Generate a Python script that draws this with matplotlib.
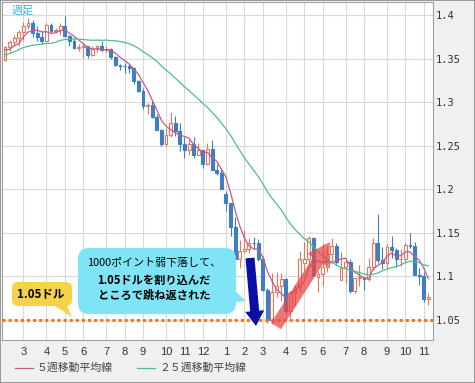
import numpy as np
import pandas as pd
import matplotlib
matplotlib.use("Agg")
import matplotlib.pyplot as plt
from matplotlib.patches import FancyBboxPatch, Polygon, FancyArrow, Rectangle
from matplotlib.lines import Line2D
from matplotlib.transforms import Affine2D

# weekly EUR/USD candles, Feb 2014 .. Nov 2015
opens = [1.3485, 1.3636, 1.3694, 1.3740, 1.3803, 1.3873, 1.3913, 1.3792, 1.3751, 1.3704,
         1.3887, 1.3812, 1.3830, 1.3870, 1.3757, 1.3697, 1.3626, 1.3633, 1.3643, 1.3542,
         1.3605, 1.3645, 1.3601, 1.3605, 1.3524, 1.3431, 1.3419, 1.3411, 1.3398, 1.3241,
         1.3131, 1.2951, 1.2962, 1.2830, 1.2684, 1.2519, 1.2628, 1.2759, 1.2670, 1.2525,
         1.2454, 1.2525, 1.2392, 1.2451, 1.2288, 1.2463, 1.2226, 1.2185, 1.1950, 1.1841,
         1.1564, 1.1204, 1.1290, 1.1314, 1.1387, 1.1380, 1.1197, 1.0844, 1.0496, 1.0823,
         1.0889, 1.0970, 1.0604, 1.0807, 1.0874, 1.1150, 1.1198, 1.1446, 1.0990, 1.1030,
         1.1113, 1.1262, 1.1349, 1.0955, 1.1109, 1.1163, 1.0829, 1.0983, 1.0984, 1.0966,
         1.1107, 1.1384, 1.1183, 1.1151, 1.1338, 1.1299, 1.1195, 1.1204, 1.1363, 1.1348,
         1.1016, 1.1004, 1.0738]
highs = [1.3640, 1.3715, 1.3773, 1.3825, 1.3915, 1.3967, 1.3940, 1.3876, 1.3812, 1.3905,
         1.3905, 1.3857, 1.3906, 1.3993, 1.3771, 1.3733, 1.3669, 1.3677, 1.3650, 1.3643,
         1.3660, 1.3701, 1.3648, 1.3619, 1.3528, 1.3444, 1.3445, 1.3433, 1.3399, 1.3250,
         1.3162, 1.2996, 1.3009, 1.2863, 1.2689, 1.2700, 1.2887, 1.2844, 1.2760, 1.2600,
         1.2577, 1.2602, 1.2532, 1.2456, 1.2532, 1.2570, 1.2296, 1.2247, 1.1976, 1.1843,
         1.1680, 1.1423, 1.1534, 1.1444, 1.1450, 1.1428, 1.1240, 1.0870, 1.1043, 1.1052,
         1.1036, 1.0985, 1.0820, 1.0899, 1.1290, 1.1392, 1.1467, 1.1450, 1.1060, 1.1385,
         1.1335, 1.1436, 1.1387, 1.1278, 1.1215, 1.1196, 1.0986, 1.1129, 1.0990, 1.1214,
         1.1441, 1.1714, 1.1332, 1.1367, 1.1460, 1.1330, 1.1318, 1.1387, 1.1495, 1.1392,
         1.1096, 1.1045, 1.0807]
lows = [1.3476, 1.3574, 1.3643, 1.3642, 1.3715, 1.3835, 1.3749, 1.3705, 1.3673, 1.3697,
        1.3789, 1.3789, 1.3772, 1.3748, 1.3648, 1.3615, 1.3586, 1.3503, 1.3510, 1.3525,
        1.3574, 1.3588, 1.3579, 1.3501, 1.3419, 1.3366, 1.3333, 1.3331, 1.3206, 1.3116,
        1.2919, 1.2859, 1.2823, 1.2682, 1.2501, 1.2501, 1.2605, 1.2615, 1.2440, 1.2358,
        1.2394, 1.2358, 1.2393, 1.2246, 1.2284, 1.2219, 1.2165, 1.1999, 1.1754, 1.1460,
        1.1114, 1.1098, 1.1270, 1.1263, 1.1316, 1.1177, 1.0838, 1.0462, 1.0458, 1.0762,
        1.0712, 1.0567, 1.0520, 1.0659, 1.0819, 1.1063, 1.1124, 1.0988, 1.0819, 1.0887,
        1.1050, 1.1180, 1.1134, 1.0955, 1.0916, 1.0809, 1.0808, 1.0887, 1.0848, 1.0950,
        1.1070, 1.1155, 1.1087, 1.1099, 1.1215, 1.1105, 1.1123, 1.1152, 1.1329, 1.1016,
        1.0897, 1.0705, 1.0675]
closes = [1.3636, 1.3694, 1.3740, 1.3803, 1.3873, 1.3913, 1.3792, 1.3751, 1.3704, 1.3887,
          1.3812, 1.3830, 1.3870, 1.3757, 1.3697, 1.3626, 1.3633, 1.3643, 1.3542, 1.3605,
          1.3645, 1.3601, 1.3605, 1.3524, 1.3431, 1.3419, 1.3411, 1.3398, 1.3241, 1.3131,
          1.2951, 1.2962, 1.2830, 1.2684, 1.2519, 1.2628, 1.2759, 1.2670, 1.2525, 1.2454,
          1.2525, 1.2392, 1.2451, 1.2288, 1.2463, 1.2226, 1.2185, 1.2002, 1.1841, 1.1564,
          1.1204, 1.1290, 1.1314, 1.1387, 1.1380, 1.1197, 1.0844, 1.0496, 1.0823, 1.0889,
          1.0970, 1.0604, 1.0807, 1.0874, 1.1200, 1.1198, 1.1446, 1.1014, 1.1030, 1.1113,
          1.1262, 1.1349, 1.1166, 1.1109, 1.1163, 1.0829, 1.0983, 1.0984, 1.0966, 1.1107,
          1.1384, 1.1183, 1.1151, 1.1338, 1.1299, 1.1195, 1.1204, 1.1363, 1.1348, 1.1016,
          1.1004, 1.0738, 1.0765]
# closes of the 24 weeks before the first candle (for the moving averages)
prior_closes = [1.3380, 1.3219, 1.3178, 1.3298, 1.3525, 1.3522, 1.3552, 1.3556, 1.3684, 1.3803,
                1.3487, 1.3365, 1.3495, 1.3554, 1.3592, 1.3705, 1.3740, 1.3672, 1.3699, 1.3591,
                1.3668, 1.3535, 1.3680, 1.3486]

month_weeks = [4, 9, 13, 17, 22, 26, 30, 35, 39, 43, 48, 52, 56, 61, 65, 69, 74, 78, 83, 87, 91]
month_labels = ["3", "4", "5", "6", "7", "8", "9", "10", "11", "12", "1",
                "2", "3", "4", "5", "6", "7", "8", "9", "10", "11"]
price_ticks = [1.05, 1.1, 1.15, 1.2, 1.25, 1.3, 1.35, 1.4]

plt.rcParams['font.family'] = ['Noto Sans CJK JP', 'DejaVu Sans']

W, H = 475, 383
fig = plt.figure(figsize=(W / 100, H / 100), dpi=100, facecolor='#f0f0f0')
px = Affine2D().scale(1 / W, -1 / H).translate(0, 1) + fig.transFigure

ax = fig.add_axes([2 / W, 1 - 340 / H, 431 / W, 338 / H])
ax.set_facecolor('white')

up_col = '#e8765e'
down_col = '#3d7fc1'
x = np.arange(len(closes))
o = np.array(opens); c = np.array(closes)
hi = np.array(highs); lo = np.array(lows)
up = c >= o
wick_cols = np.where(up, up_col, down_col)
ax.vlines(x, lo, hi, colors=wick_cols, lw=0.8, zorder=2)
body = np.maximum(np.abs(c - o), 0.0008)
ax.bar(x[up], body[up], bottom=np.minimum(o, c)[up], width=0.62,
       color='white', edgecolor=up_col, lw=0.8, zorder=3)
ax.bar(x[~up], body[~up], bottom=np.minimum(o, c)[~up], width=0.62,
       color=down_col, edgecolor=down_col, lw=0.8, zorder=3)

all_close = pd.Series(prior_closes + closes)
ma5 = all_close.rolling(5).mean().to_numpy()[len(prior_closes):]
ma25 = all_close.rolling(25).mean().to_numpy()[len(prior_closes):]
ma5_col = '#c8588a'
ma25_col = '#4cc08a'
ax.plot(x, ma5, color=ma5_col, lw=0.9, zorder=4)
ax.plot(x, ma25, color=ma25_col, lw=0.9, zorder=4)

ax.axhline(1.05, color='#f07a1a', lw=2.2, dashes=(1, 1), zorder=5)

ax.set_xlim(-0.65, 93.0)
ax.set_ylim(1.027, 1.415)
ax.set_xticks(month_weeks)
ax.set_xticklabels(month_labels, family='Liberation Sans', fontsize=8, color='#333333')
ax.yaxis.tick_right()
ax.set_yticks(price_ticks)
ax.set_yticklabels(['%g' % v for v in price_ticks], family='DejaVu Sans Mono',
                   fontsize=7.5, color='#333333')
ax.tick_params(axis='x', length=0, pad=5)
ax.tick_params(axis='y', length=0, pad=2)
ax.grid(True, color='#d9d9d9', lw=0.8, zorder=0)
ax.set_axisbelow(True)
for s in ax.spines.values():
    s.set_color('#a0a0a0')
    s.set_linewidth(0.8)

ax.text(12, 11, '週足', transform=px, color='#3cb4e6', fontsize=8, va='center', ha='left')

# callouts
yb = FancyBboxPatch((12, 282), 60, 24, boxstyle='round,pad=0,rounding_size=6',
                    transform=px, fc='#f5d24a', ec='none', zorder=6)
fig.add_artist(yb)
fig.add_artist(Polygon([(52, 304), (66, 304), (72, 317)], closed=True, transform=px,
                       fc='#f5d24a', ec='none', zorder=6))
fig.text(41, 294, '1.05ドル', transform=px, fontsize=8.3, fontweight='bold',
         ha='center', va='center', zorder=7)

cb = FancyBboxPatch((78, 248), 158, 66, boxstyle='round,pad=0,rounding_size=11',
                    transform=px, fc='#7fe4f6', ec='none', zorder=6)
fig.add_artist(cb)
fig.add_artist(Polygon([(228, 284), (228, 303), (246, 301)], closed=True, transform=px,
                       fc='#7fe4f6', ec='none', zorder=6))
fig.text(154, 263, '1000ポイント弱下落して、', transform=px, fontsize=7.9,
         ha='center', va='center', zorder=7)
fig.text(154, 280, '1.05ドルを割り込んだ', transform=px, fontsize=8.1, fontweight='bold',
         ha='center', va='center', zorder=7)
fig.text(154, 295, 'ところで跳ね返された', transform=px, fontsize=8.1, fontweight='bold',
         ha='center', va='center', zorder=7)

# arrows
fig.add_artist(FancyArrow(250, 258, 6, 68, width=9, head_width=19, head_length=15,
                          length_includes_head=True, transform=px, color='#0a10a5',
                          lw=0, zorder=8))
fig.add_artist(FancyArrow(276, 326, 54, -84, width=12, head_width=25, head_length=22,
                          length_includes_head=True, transform=px, color='#e84848',
                          alpha=0.75, lw=0, zorder=8))

# legend
fig.add_artist(Line2D([15, 33], [368, 368], transform=px, color=ma5_col, lw=0.9))
fig.text(37, 368, '５週移動平均線', transform=px, fontsize=7.8, color='#404040', va='center')
fig.add_artist(Line2D([137, 155], [368, 368], transform=px, color=ma25_col, lw=0.9))
fig.text(159, 368, '２５週移動平均線', transform=px, fontsize=7.8, color='#404040', va='center')

fig.add_artist(Rectangle((0, 0), 1, 1, transform=fig.transFigure, fill=False,
                         ec='#8a8a8a', lw=1.2))

fig.savefig('out.png', dpi=100, facecolor=fig.get_facecolor())
